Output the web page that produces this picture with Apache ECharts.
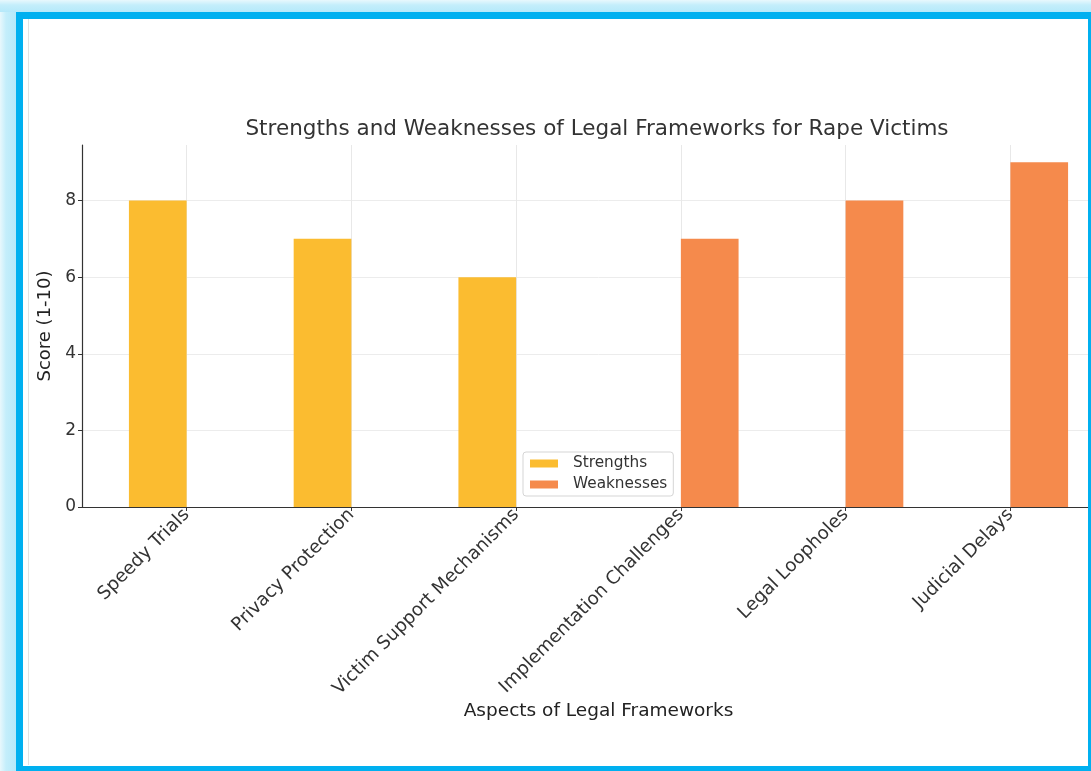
<!DOCTYPE html>
<html>
<head>
<meta charset="utf-8">
<script src="https://cdn.jsdelivr.net/npm/echarts@6/dist/echarts.min.js"></script>
<style>
  html, body { margin:0; padding:0; width:1091px; height:771px; overflow:hidden; background:#fff; position:relative; }
  #chart { position:absolute; left:0; top:0; width:1115px; height:771px; }
  .ov { position:absolute; pointer-events:none; }
</style>
</head>
<body>
<div id="chart"></div>
<div class="ov" style="left:0;top:0;width:16px;height:771px;background:linear-gradient(to right,#e8f8fd 0px,#c4eefb 6px,#b5e9fa 16px);"></div>
<div class="ov" style="left:0;top:0;width:1091px;height:12px;background:linear-gradient(to bottom,#e8f8fd 0px,#c4eefb 5px,#b5e9fa 12px);"></div>
<div class="ov" style="left:16px;top:12px;width:1065px;height:747px;border:7px solid #00b0f0;"></div>
<div class="ov" style="left:28px;top:19px;width:1px;height:746px;background:#e2e2e2;"></div>
<script>
const categories = ["Speedy Trials", "Privacy Protection", "Victim Support Mechanisms", "Implementation Challenges", "Legal Loopholes", "Judicial Delays"];
const strengths = [8, 7, 6, null, null, null];
const weaknesses = [null, null, null, 7, 8, 9];
const yTicks = [0, 2, 4, 6, 8];

const chart = echarts.init(document.getElementById('chart'));
const idx = categories.map((c, i) => i);
const font = 'DejaVu Sans';
chart.setOption({
  backgroundColor: '#fff',
  animation: false,
  textStyle: { fontFamily: font },
  title: {
    text: 'Strengths and Weaknesses of Legal Frameworks for Rape Victims',
    left: 592, top: 113, textAlign: 'center',
    textStyle: { fontFamily: font, fontSize: 21.5, fontWeight: 'normal', color: '#333' }
  },
  legend: {
    orient: 'vertical', left: 523, top: 452,
    data: ['Strengths', 'Weaknesses'],
    icon: 'rect', itemWidth: 28, itemHeight: 8, itemGap: 6,
    padding: [4, 6, 4, 7],
    borderColor: '#d5d5d5', borderWidth: 1, borderRadius: 3, backgroundColor: 'rgba(255,255,255,0.85)',
    textStyle: { fontFamily: font, fontSize: 15.3, color: '#333', padding: [0, 0, 0, 10] }
  },
  grid: { left: 82, right: 0, top: 145, bottom: 264, containLabel: false },
  xAxis: {
    type: 'value', min: -0.635, max: 5.635,
    name: 'Aspects of Legal Frameworks', nameLocation: 'middle', nameGap: 195,
    nameTextStyle: { fontFamily: font, fontSize: 18.5, color: '#222' },
    axisLine: { show: true, onZero: false, lineStyle: { color: '#333', width: 1.2 } },
    axisTick: { show: true, customValues: idx, length: 4, lineStyle: { color: '#333' } },
    axisLabel: { customValues: idx, rotate: 45, fontFamily: font, fontSize: 18.3, color: '#333', margin: 5,
      formatter: v => categories[Math.round(v)] },
    splitLine: { show: true, lineStyle: { color: '#e8e8e8', width: 1 } }
  },
  yAxis: {
    type: 'value', min: 0, max: 9.45,
    name: 'Score (1-10)', nameLocation: 'middle', nameGap: 27, nameRotate: 90,
    nameTextStyle: { fontFamily: font, fontSize: 18, color: '#222' },
    axisLine: { show: true, onZero: false, lineStyle: { color: '#333', width: 1.2 } },
    axisTick: { show: true, customValues: yTicks, length: 4, lineStyle: { color: '#333' } },
    axisLabel: { customValues: yTicks, fontFamily: font, fontSize: 17, color: '#333', margin: 6 },
    splitLine: { show: true, lineStyle: { color: '#ececec', width: 1 } }
  },
  series: [
    { name: 'Strengths', type: 'bar', barWidth: 57.7, barGap: '0%',
      itemStyle: { color: '#fbbc30' },
      data: strengths.map((v, i) => [i, v]) },
    { name: 'Weaknesses', type: 'bar', barWidth: 57.7, barGap: '0%',
      itemStyle: { color: '#f58a4c' },
      data: weaknesses.map((v, i) => [i, v]) }
  ]
});
</script>
</body>
</html>
